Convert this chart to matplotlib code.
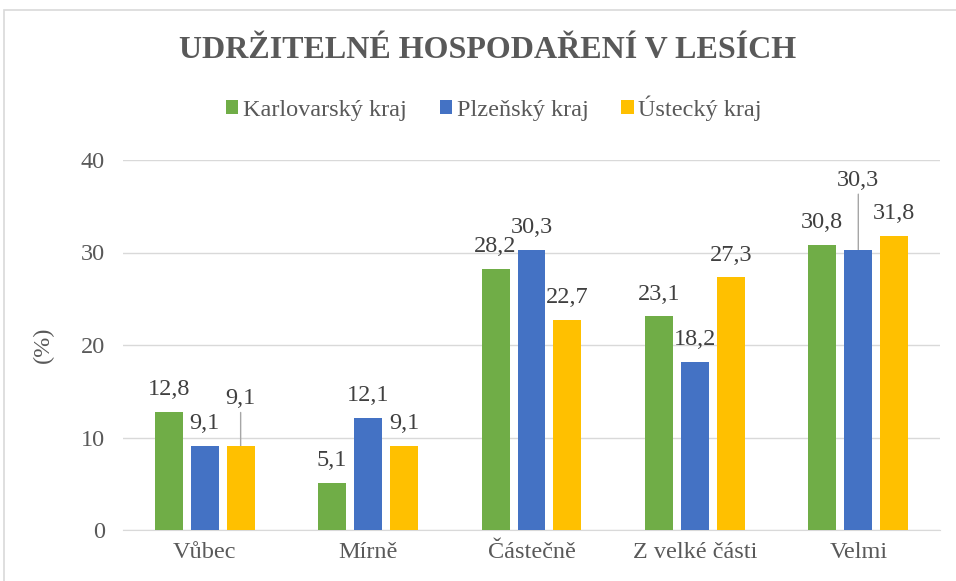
import numpy as np
import matplotlib.pyplot as plt
from matplotlib.patches import Rectangle

categories = ["Vůbec", "Mírně", "Částečně", "Z velké části", "Velmi"]
series_names = ["Karlovarský kraj", "Plzeňský kraj", "Ústecký kraj"]
karlovarsky = [12.8, 5.1, 28.2, 23.1, 30.8]
plzensky = [9.1, 12.1, 30.3, 18.2, 30.3]
ustecky = [9.1, 9.1, 22.7, 27.3, 31.8]
colors = ["#70AD47", "#4472C4", "#FFC000"]

plt.rcParams['font.family'] = ['Liberation Serif', 'DejaVu Serif']
txt = "#595959"
fs = 17.5

fig = plt.figure(figsize=(9.56, 5.81), dpi=100)
ax = fig.add_axes([123/956, 51/581, 817/956, 370/581])

# chart border like excel
fig.patches.append(Rectangle((4/956, -0.1), 1.1, (581-10)/581 + 0.1,
                             transform=fig.transFigure, fill=False,
                             ec="#D9D9D9", lw=1.2))

x = np.arange(len(categories))
width = 0.171
step = 0.22
data = [karlovarsky, plzensky, ustecky]
# labels pushed up with a leader line: (series, category) -> (baseline pt, line top pt)
lead = {(2, 0): (30, 24), (1, 4): (46, 40)}
for i, (vals, name, c) in enumerate(zip(data, series_names, colors)):
    xs = x + (i - 1) * step
    ax.bar(xs, vals, width, color=c, label=name, zorder=3)
    for j, (xx, v) in enumerate(zip(xs, vals)):
        s = f"{v:.1f}".replace(".", ",")
        off = 12
        if (i, j) in lead:
            off, top = lead[(i, j)]
            ax.annotate("", xy=(xx, v), xytext=(0, top), textcoords="offset points",
                        arrowprops=dict(arrowstyle="-", color="#A6A6A6", lw=1,
                                        shrinkA=0, shrinkB=0), zorder=2)
        ax.annotate(s, xy=(xx, v), xytext=(0, off), textcoords="offset points",
                    ha="center", va="baseline", fontsize=fs, color="#404040")

ax.set_ylim(0, 40)
ax.set_xlim(-0.5, 4.5)
ax.set_yticks([0, 10, 20, 30, 40])
ax.yaxis.grid(True, color="#D9D9D9", lw=1, zorder=0)
ax.set_xticks(x)
ax.set_xticklabels(categories)
ax.tick_params(axis="both", length=0, labelsize=fs, labelcolor=txt)
ax.tick_params(axis="x", pad=9)
ax.tick_params(axis="y", pad=13)
for sp in ["top", "right", "left"]:
    ax.spines[sp].set_visible(False)
ax.spines["bottom"].set_color("#D9D9D9")
ax.set_ylabel("(%)", fontsize=fs, color=txt, labelpad=19)

fig.text(488/956, 1 - 51/581, "UDRŽITELNÉ HOSPODAŘENÍ V LESÍCH", ha="center", va="center",
         fontsize=23, fontweight="bold", color=txt)
fig.legend(loc="center", bbox_to_anchor=(494/956, 1 - 108/581), ncol=3, frameon=False,
           fontsize=fs, handlelength=0.5, handleheight=0.5, handletextpad=0.2,
           columnspacing=1.35, labelcolor=txt)

fig.savefig("out.png", dpi=100)
